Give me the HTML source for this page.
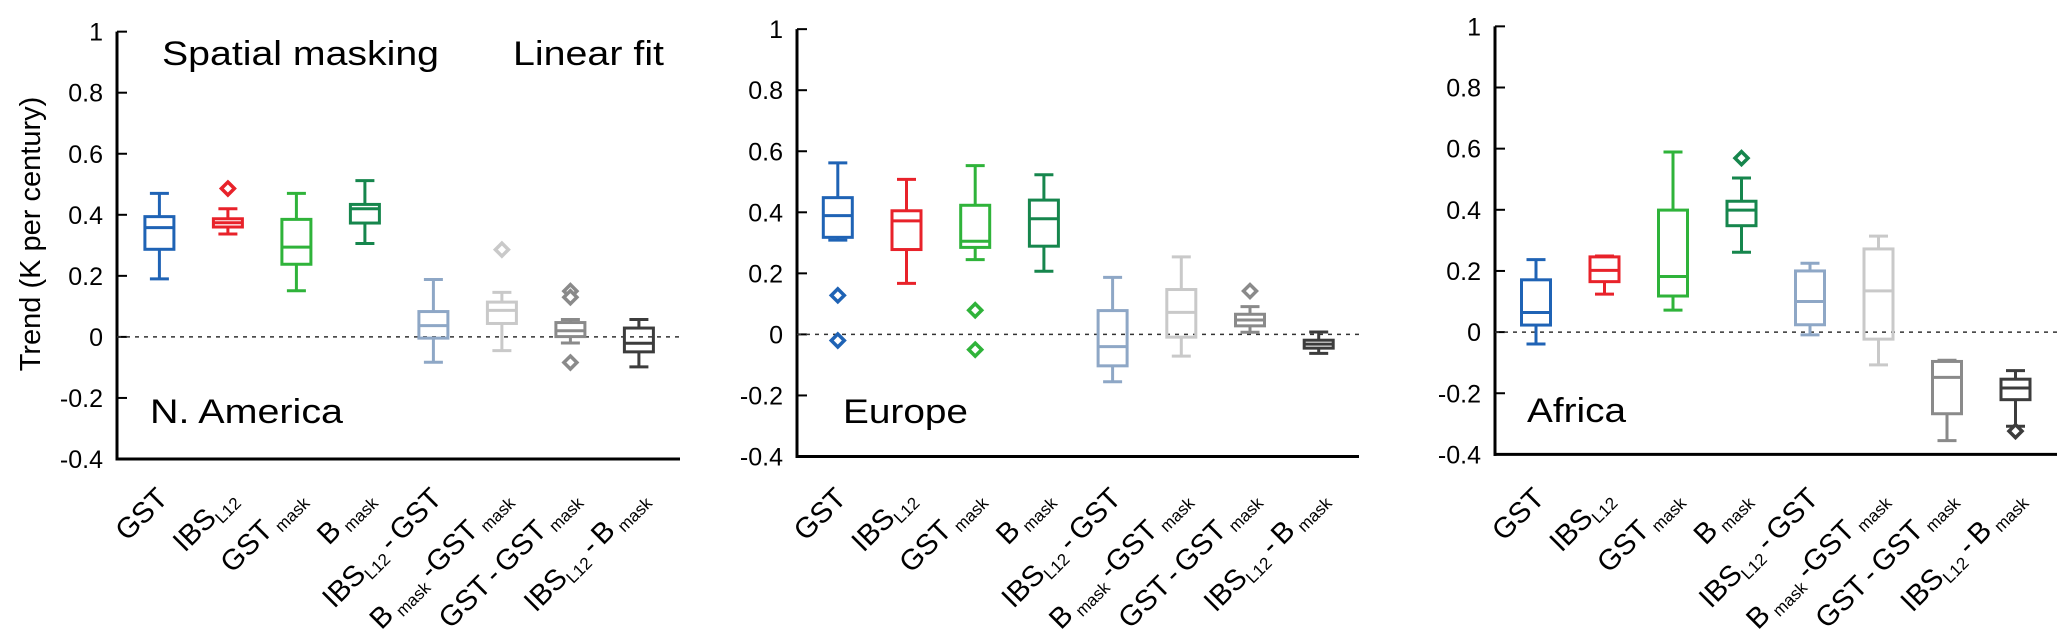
<!DOCTYPE html>
<html><head><meta charset="utf-8">
<style>
html,body{margin:0;padding:0;background:#fff;}
svg{display:block;font-family:"Liberation Sans",Arial,sans-serif;}
</style></head>
<body>
<svg id="chart" width="2067" height="641" viewBox="0 0 2067 641"></svg>
<script>
// ---- data ----
const categories = ["GST","IBS_L12","GST_mask","B_mask","IBS_L12-GST","B_mask-GST_mask","GST-GST_mask","IBS_L12-B_mask"];
const yTicks = [1,0.8,0.6,0.4,0.2,0,-0.2,-0.4];
const yTickLabels = ["1","0.8","0.6","0.4","0.2","0","-0.2","-0.4"];
const colors = ["#1f63b5","#e8222a","#2fb33a","#16864d","#8ea7c6","#c9c9c9","#8a8a8a","#3c3c3c"];
// each box: [lowWhisker, q1, median, q3, highWhisker]
const naBoxes = [[0.19,0.287,0.358,0.394,0.47],[0.337,0.36,0.374,0.387,0.42],[0.151,0.238,0.294,0.385,0.47],[0.306,0.373,0.42,0.434,0.512],[-0.083,-0.004,0.037,0.083,0.188],[-0.045,0.044,0.087,0.114,0.146],[-0.02,0.001,0.02,0.047,0.057],[-0.098,-0.049,-0.021,0.029,0.057]];
const naOutliers = [[],[0.486],[],[],[],[0.286],[0.15,0.13,-0.084],[]];
const euBoxes = [[0.309,0.318,0.389,0.448,0.562],[0.167,0.278,0.372,0.405,0.508],[0.245,0.285,0.305,0.423,0.553],[0.207,0.289,0.379,0.44,0.523],[-0.155,-0.103,-0.04,0.078,0.187],[-0.071,-0.009,0.072,0.147,0.254],[0.007,0.028,0.047,0.066,0.091],[-0.062,-0.045,-0.032,-0.019,0.008]];
const euOutliers = [[0.128,-0.02],[],[0.079,-0.05],[],[],[],[0.142],[]];
const afBoxes = [[-0.039,0.023,0.064,0.171,0.237],[0.124,0.165,0.202,0.246,0.249],[0.072,0.118,0.182,0.399,0.589],[0.261,0.348,0.399,0.428,0.504],[-0.009,0.024,0.1,0.2,0.225],[-0.107,-0.023,0.135,0.272,0.314],[-0.355,-0.267,-0.148,-0.096,-0.092],[-0.308,-0.221,-0.183,-0.154,-0.126]];
const afOutliers = [[],[],[],[0.569],[],[],[],[-0.324]];

const NS="http://www.w3.org/2000/svg";
const svg=document.getElementById('chart');
function mk(tag,attrs,parent){const e=document.createElementNS(NS,tag);for(const k in attrs)e.setAttribute(k,attrs[k]);(parent||svg).appendChild(e);return e;}

// label pieces: [text, isSub]
const labelParts=[
 [["GST",0]],
 [["IBS",0],["L12",1]],
 [["GST ",0],["mask",1]],
 [["B ",0],["mask",1]],
 [["IBS",0],["L12",1],[" - GST",0]],
 [["B ",0],["mask",1],[" -GST ",0],["mask",1]],
 [["GST - GST ",0],["mask",1]],
 [["IBS",0],["L12",1],[" - B ",0],["mask",1]]
];

function panel(cfg){
  const g=mk('g',{});
  
  
  const yScale=v=>cfg.y0+(v)*(cfg.yNeg4-cfg.y0)/(-0.4);
  const xScale=i=>cfg.firstX+i*cfg.step;
  const ya=mk('line',{x1:cfg.ax,y1:yScale(1),x2:cfg.ax,y2:yScale(-0.4)+1.5,stroke:'#000','stroke-width':3},g);
  
  const xa=mk('line',{x1:cfg.ax-1.5,y1:yScale(-0.4),x2:cfg.right,y2:yScale(-0.4),stroke:'#000','stroke-width':3},g);
  
  yTicks.forEach((t,i)=>{
    const y=yScale(t);
    const tk=mk('line',{x1:cfg.ax,y1:y,x2:cfg.ax+10,y2:y,stroke:'#000','stroke-width':2},g);
    
    const tl=mk('text',{x:cfg.ax-14,y:y+9,'text-anchor':'end','font-size':25},g);
    tl.textContent=yTickLabels[i];
    
  });
  const zl=mk('line',{x1:cfg.ax,y1:yScale(0),x2:cfg.right,y2:yScale(0),stroke:'#333','stroke-width':1.5,'stroke-dasharray':'4,5'},g);
  
  const bw=29,cw=19;
  cfg.boxes.forEach((b,i)=>{
    const x=xScale(i),c=colors[i];
    const bg=mk('g',{stroke:c,'stroke-width':3,fill:'none'},g);
    
    
    mk('line',{x1:x,y1:yScale(b[4]),x2:x,y2:yScale(b[3])},bg);
    mk('line',{x1:x,y1:yScale(b[1]),x2:x,y2:yScale(b[0])},bg);
    mk('line',{x1:x-cw/2,y1:yScale(b[4]),x2:x+cw/2,y2:yScale(b[4])},bg);
    mk('line',{x1:x-cw/2,y1:yScale(b[0]),x2:x+cw/2,y2:yScale(b[0])},bg);
    mk('rect',{x:x-bw/2,y:yScale(b[3]),width:bw,height:Math.max(0.5,yScale(b[1])-yScale(b[3]))},bg);
    mk('line',{x1:x-bw/2,y1:yScale(b[2]),x2:x+bw/2,y2:yScale(b[2])},bg);
    cfg.outliers[i].forEach(o=>{
      const y=yScale(o),r=6.5;
      const d=mk('path',{d:`M${x} ${y-r}L${x+r} ${y}L${x} ${y+r}L${x-r} ${y}Z`,fill:'#fff','stroke-width':3.5},bg);
      
    });
    const lx=x+10,ly=500;
    const t=mk('text',{x:lx,y:ly,'text-anchor':'end','font-size':29,'word-spacing':-3,transform:`rotate(-45 ${lx} ${ly})`},g);
    
    labelParts[i].forEach(p=>{
      const s=mk('tspan',{},t);
      if(p[1]){s.setAttribute('font-size',17);s.setAttribute('dy',6);}
      else if(s.previousSibling){s.setAttribute('dy',-6);}
      s.textContent=p[0];
    });
  });
  cfg.texts.forEach(tx=>{
    const t=mk('text',{x:tx[1],y:tx[2],'font-size':34,textLength:tx[3],lengthAdjust:'spacingAndGlyphs'},g);
    t.textContent=tx[0];
    
  });
}

panel({name:'panel-north-america',ax:117,right:680,y0:336.9,yNeg4:459,firstX:159.4,step:68.5,boxes:naBoxes,outliers:naOutliers,
  texts:[["Spatial masking",162,65,277,'title-spatial-masking'],["Linear fit",513,65,151,'title-linear-fit'],["N. America",150,423,193,'region-label']]});
panel({name:'panel-europe',ax:797,right:1359,y0:334.4,yNeg4:456.5,firstX:837.8,step:68.7,boxes:euBoxes,outliers:euOutliers,
  texts:[["Europe",843,423,125,'region-label']]});
panel({name:'panel-africa',ax:1495,right:2057,y0:332.1,yNeg4:454.4,firstX:1536,step:68.5,boxes:afBoxes,outliers:afOutliers,
  texts:[["Africa",1527,422,99,'region-label']]});

const yt=mk('text',{x:0,y:0,'text-anchor':'middle','font-size':29,transform:'translate(40 234) rotate(-90)'});
yt.textContent='Trend (K per century)';


</script>
</body></html>
